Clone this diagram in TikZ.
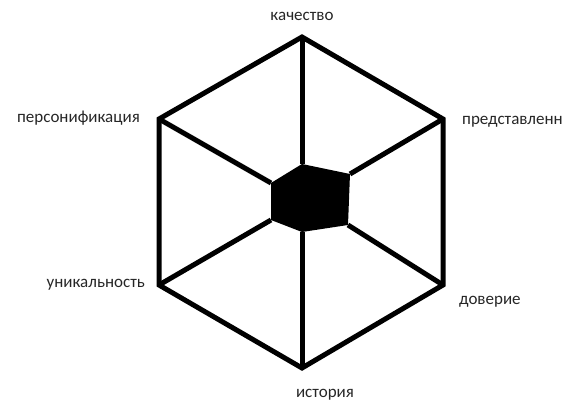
\documentclass[tikz,border=0pt]{standalone}
\usepackage{fontspec}
\setmainfont{Carlito}
\begin{document}
\begin{tikzpicture}[x=1pt,y=-1pt]
	\useasboundingbox (0,0) rectangle (566,401);
	\tikzset{edge/.style={line width=5pt,line join=miter},
		lbl/.style={inner sep=0pt,text=black!85,font=\fontsize{17}{19}\selectfont}}
	% outer hexagon
	\coordinate (kach) at (302,37);
	\coordinate (pred) at (443,119);
	\coordinate (dov) at (443,285);
	\coordinate (ist) at (302,368);
	\coordinate (unik) at (159,285);
	\coordinate (pers) at (159,119);
	% inner core
	\coordinate (ckach) at (302,164);
	\coordinate (cpred) at (350,174);
	\coordinate (cdov) at (348,225);
	\coordinate (cist) at (302,232);
	\coordinate (cunik) at (271,220);
	\coordinate (cpers) at (271,183);
	\draw[edge](kach)--(pred)--(dov)--(ist)--(unik)--(pers)--cycle;
	\fill[line join=round](ckach)--(cpred)--(cdov)--(cist)--(cunik)--(cpers)--cycle;
	\foreach \v in {kach,pred,dov,ist,unik,pers}
		\draw[edge](\v)--(c\v);
	% labels
	\node[lbl,anchor=mid](tkach) at (302,18){качество};
	\node[lbl,anchor=mid west](tpred) at (462,122){представленн};
	\node[lbl,anchor=mid west](tdov) at (459,302){доверие};
	\node[lbl,anchor=mid](tist) at (325,395){история};
	\node[lbl,anchor=mid east](tunik) at (145,285){уникальность};
	\node[lbl,anchor=mid east](tpers) at (140,120){персонификация};
\end{tikzpicture}
\end{document}
